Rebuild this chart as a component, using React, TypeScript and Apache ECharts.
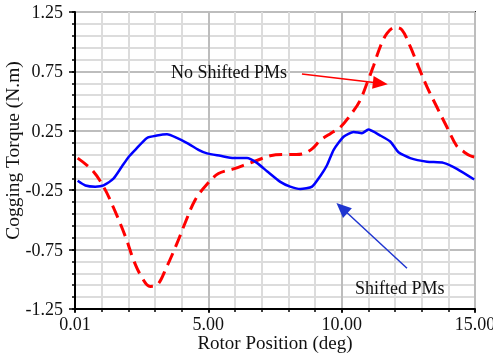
import React, { useEffect, useRef } from "react";
import * as echarts from "echarts";

// No Shifted PMs (red dashed)
const redX = [0.1, 0.64, 1.07, 1.45, 1.89, 2.2, 2.45, 2.82, 3.07, 3.45, 3.82, 4.14, 4.51, 4.95, 5.38, 5.95, 6.45, 6.82, 7.32, 7.8, 8.3, 8.6, 8.9, 9.2, 9.6, 9.95, 10.45, 10.7, 10.95, 11.2, 11.45, 11.7, 12.0, 12.26, 12.57, 12.88, 13.2, 13.57, 13.95, 14.32, 14.6, 14.82, 14.97];
const redY = [0.02, -0.08, -0.22, -0.40, -0.64, -0.84, -0.96, -1.06, -1.05, -0.89, -0.70, -0.52, -0.33, -0.20, -0.11, -0.07, -0.03, 0.00, 0.04, 0.05, 0.05, 0.06, 0.10, 0.17, 0.23, 0.28, 0.42, 0.51, 0.65, 0.80, 0.96, 1.07, 1.12, 1.10, 0.96, 0.79, 0.62, 0.45, 0.28, 0.12, 0.07, 0.04, 0.03];

// Shifted PMs (blue solid)
const blueX = [0.1, 0.39, 0.76, 1.07, 1.45, 1.76, 2.01, 2.26, 2.7, 3.07, 3.45, 3.82, 4.26, 4.63, 4.95, 5.45, 5.95, 6.45, 6.82, 7.2, 7.7, 8.07, 8.45, 8.89, 9.2, 9.45, 9.7, 10.07, 10.45, 10.76, 11.0, 11.45, 11.82, 12.13, 12.57, 13.2, 13.82, 14.32, 14.97];
const blueY = [-0.17, -0.21, -0.22, -0.21, -0.15, -0.05, 0.03, 0.09, 0.19, 0.21, 0.22, 0.19, 0.14, 0.09, 0.06, 0.04, 0.02, 0.02, -0.02, -0.09, -0.18, -0.22, -0.24, -0.22, -0.13, -0.04, 0.09, 0.20, 0.24, 0.23, 0.26, 0.21, 0.16, 0.07, 0.02, -0.01, -0.02, -0.07, -0.16];

// Tick values
const yMajorTicks = [-1.25, -0.75, -0.25, 0.25, 0.75, 1.25];
const yMinorTicks = [-1.25, -1.15, -1.05, -0.95, -0.85, -0.75, -0.65, -0.55, -0.45, -0.35, -0.25, -0.15, -0.05, 0.05, 0.15, 0.25, 0.35, 0.45, 0.55, 0.65, 0.75, 0.85, 0.95, 1.05, 1.15, 1.25];
const xFirstLabel = "0.01";

// Annotation arrows (data coords): [from, to]
const redArrow = [[8.51, 0.728], [11.45, 0.65]];
const blueArrow = [[12.45, -0.907], [10.01, -0.4]];

const FONT = "Liberation Serif";

export default function App() {
  const ref = useRef<HTMLDivElement>(null);
  useEffect(() => {
    if (!ref.current) return;
    const chart = echarts.init(ref.current, undefined, { renderer: "svg" });
    const minorColor = "#dcdcdc";
    const majorColor = "#bdbdbd";
    chart.setOption({
      animation: false,
      grid: {
        left: 75,
        right: 18,
        top: 12,
        bottom: 49,
        show: true,
        borderColor: "#222",
        borderWidth: 2,
        backgroundColor: "transparent",
        outerBoundsMode: "none",
      },
      xAxis: [
        {
          type: "value",
          min: 0,
          max: 15,
          interval: 1,
          position: "bottom",
          axisLine: { show: false, onZero: false },
          axisTick: { show: true, length: 3, lineStyle: { color: "#000", width: 1.5 } },
          axisLabel: { show: false },
          splitLine: { show: true, lineStyle: { color: minorColor, width: 2 } },
        },
        {
          type: "value",
          min: 0,
          max: 15,
          interval: 5,
          position: "bottom",
          offset: 0,
          name: "Rotor Position (deg)",
          nameLocation: "middle",
          nameGap: 24,
          nameMoveOverlap: false,
          nameTextStyle: { fontFamily: FONT, fontSize: 19, color: "#111", verticalAlign: "top" },
          axisLine: { show: true, onZero: false, lineStyle: { color: "#000", width: 2 } },
          axisTick: { show: true, length: 4, lineStyle: { color: "#000", width: 1.5 } },
          axisLabel: {
            margin: 6,
            fontFamily: FONT,
            fontSize: 18,
            color: "#111",
            formatter: (v: number) => (v === 0 ? xFirstLabel : v.toFixed(2)),
          },
          splitLine: { show: true, lineStyle: { color: majorColor, width: 2 } },
        },
      ],
      yAxis: [
        {
          type: "value",
          position: "left",
          min: -1.25,
          max: 1.25,
          axisLine: { show: false, onZero: false },
          axisTick: { show: true, length: 3, customValues: yMinorTicks, lineStyle: { color: "#000", width: 1.5 } },
          axisLabel: { show: false },
          splitLine: { show: true, lineStyle: { color: minorColor, width: 2 } },
        },
        {
          type: "value",
          position: "left",
          offset: 0,
          min: -1.25,
          max: 1.25,
          name: "Cogging Torque (N.m)",
          nameLocation: "middle",
          nameGap: 53,
          nameMoveOverlap: false,
          nameTextStyle: { fontFamily: FONT, fontSize: 19.5, color: "#111", padding: [0, 0, 0, 20] },
          axisLine: { show: true, onZero: false, lineStyle: { color: "#000", width: 2 } },
          axisTick: { show: true, length: 6, customValues: yMajorTicks, lineStyle: { color: "#000", width: 1.5 } },
          axisLabel: {
            customValues: yMajorTicks,
            margin: 12,
            fontFamily: FONT,
            fontSize: 18,
            color: "#111",
            formatter: (v: number) => v.toFixed(2),
          },
          splitLine: { show: true, lineStyle: { color: majorColor, width: 2 } },
        },
      ],
      series: [
        {
          name: "No Shifted PMs",
          type: "line",
          xAxisIndex: 0,
          yAxisIndex: 0,
          data: redX.map((x, i) => [x, redY[i]]),
          smooth: 0.35,
          showSymbol: false,
          symbol: "none",
          lineStyle: { color: "#ff0000", width: 3, type: [13, 7] },
          z: 3,
          markLine: {
            silent: true,
            symbol: ["none", "triangle"],
            symbolSize: [13, 15],
            label: { show: false },
            lineStyle: { color: "#ff0000", width: 1.5, type: "solid" },
            data: [[{ coord: redArrow[0] }, { coord: redArrow[1] }]],
          },
        },
        {
          name: "Shifted PMs",
          type: "line",
          xAxisIndex: 0,
          yAxisIndex: 0,
          data: blueX.map((x, i) => [x, blueY[i]]),
          smooth: 0.2,
          showSymbol: false,
          symbol: "none",
          lineStyle: { color: "#0000ff", width: 2.5 },
          z: 4,
          markLine: {
            silent: true,
            symbol: ["none", "triangle"],
            symbolSize: [13, 15],
            label: { show: false },
            lineStyle: { color: "#1f35d0", width: 1.5, type: "solid" },
            data: [[{ coord: blueArrow[0] }, { coord: blueArrow[1] }]],
          },
        },
      ],
      graphic: [
        {
          type: "text",
          x: 171,
          y: 72,
          z: 10,
          style: { text: "No Shifted PMs", fontFamily: FONT, fontSize: 18, fill: "#111", verticalAlign: "middle", align: "left" },
        },
        {
          type: "text",
          x: 355,
          y: 288,
          z: 10,
          style: { text: "Shifted PMs", fontFamily: FONT, fontSize: 18, fill: "#111", verticalAlign: "middle", align: "left" },
        },
      ],
    });
    return () => chart.dispose();
  }, []);
  return (
    <div
      ref={ref}
      style={{ position: "fixed", left: 0, top: 0, width: 493, height: 358 }}
    />
  );
}
